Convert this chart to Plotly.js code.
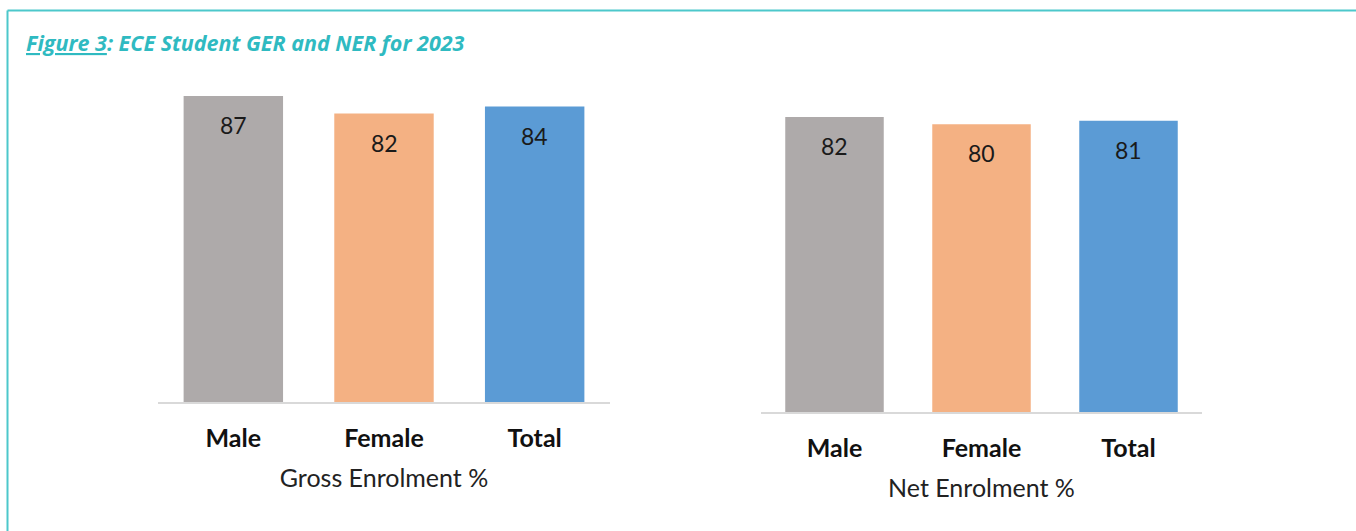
<!DOCTYPE html>
<html>
<head>
<meta charset="utf-8">
<script src="https://cdn.plot.ly/plotly-3.0.1.min.js"></script>
<style>html,body{margin:0;padding:0;background:#fff;}#chart{width:1356px;height:531px;}</style>
</head>
<body>
<div id="chart"></div>
<script>
const categories = ["Male", "Female", "Total"];
const grossValues = [87, 82, 84];
const netValues = [82, 80, 81];
const barColors = ["#AEAAAA", "#F4B183", "#5B9BD5"];
const grossTitle = "Gross Enrolment %";
const netTitle = "Net Enrolment %";
const figureTitle = '<span style="text-decoration:underline">Figure 3</span>: ECE Student GER and NER for 2023';

const teal = "#4CC8CB";
const labelFont = {family: "Lato, 'Open Sans', sans-serif", size: 23, color: "#1a1a1a"};

const traces = [
  {type: "bar", x: categories, y: grossValues, marker: {color: barColors}, width: 0.66,
   xaxis: "x", yaxis: "y", hoverinfo: "skip", showlegend: false},
  {type: "bar", x: categories, y: netValues, marker: {color: barColors}, width: 0.67,
   xaxis: "x2", yaxis: "y2", hoverinfo: "skip", showlegend: false}
];

const annotations = [];
categories.forEach((c, i) => {
  annotations.push({xref: "x", yref: "y", x: c, y: grossValues[i], text: String(grossValues[i]),
    showarrow: false, yanchor: "middle", yshift: -29, font: labelFont});
  annotations.push({xref: "x2", yref: "y2", x: c, y: netValues[i], text: String(netValues[i]),
    showarrow: false, yanchor: "middle", yshift: -29, font: labelFont});
});
annotations.push({xref: "paper", yref: "paper", x: 24/1356, y: 1 - 42/531, xanchor: "left", yanchor: "middle",
  text: "<b><i>" + figureTitle + "</i></b>", showarrow: false,
  font: {family: "'Open Sans', 'Noto Sans', sans-serif", size: 21.5, color: "#2FBAC1"}});

const xCommon = {
  type: "category", range: [-0.5, 2.5], showline: true, linecolor: "#D9D9D9", linewidth: 2,
  showgrid: false, zeroline: false, ticks: "", ticklabelstandoff: 13,
  tickfont: {family: "Lato, 'Open Sans', sans-serif", size: 25, color: "#111", weight: "bold"},
  fixedrange: true, automargin: false
};
const yCommon = {range: [0, 90], showgrid: false, zeroline: false, showline: false, showticklabels: false, ticks: "", fixedrange: true};

const layout = {
  width: 1356, height: 531,
  margin: {l: 0, r: 0, t: 0, b: 0},
  paper_bgcolor: "#ffffff", plot_bgcolor: "rgba(0,0,0,0)",
  bargap: 0.34,
  xaxis: Object.assign({}, xCommon, {domain: [158/1356, 610/1356], anchor: "y",
    title: {text: grossTitle, standoff: 18, font: {family: "Lato, 'Open Sans', sans-serif", size: 25, color: "#222"}}}),
  yaxis: Object.assign({}, yCommon, {domain: [129/531, (531-85.4)/531], anchor: "x"}),
  xaxis2: Object.assign({}, xCommon, {domain: [761/1356, 1202/1356], anchor: "y2",
    title: {text: netTitle, standoff: 18, font: {family: "Lato, 'Open Sans', sans-serif", size: 25, color: "#222"}}}),
  yaxis2: Object.assign({}, yCommon, {domain: [119/531, (531-88.3)/531], anchor: "x2"}),
  annotations: annotations,
  shapes: [
    {type: "line", xref: "paper", yref: "paper", x0: 7.5/1356, x1: 1, y0: 1 - 10.5/531, y1: 1 - 10.5/531, line: {color: teal, width: 2}},
    {type: "line", xref: "paper", yref: "paper", x0: 7.5/1356, x1: 7.5/1356, y0: 0, y1: 1 - 10.5/531, line: {color: teal, width: 2}}
  ]
};

Plotly.newPlot("chart", traces, layout, {displayModeBar: false, staticPlot: true});
</script>
</body>
</html>
